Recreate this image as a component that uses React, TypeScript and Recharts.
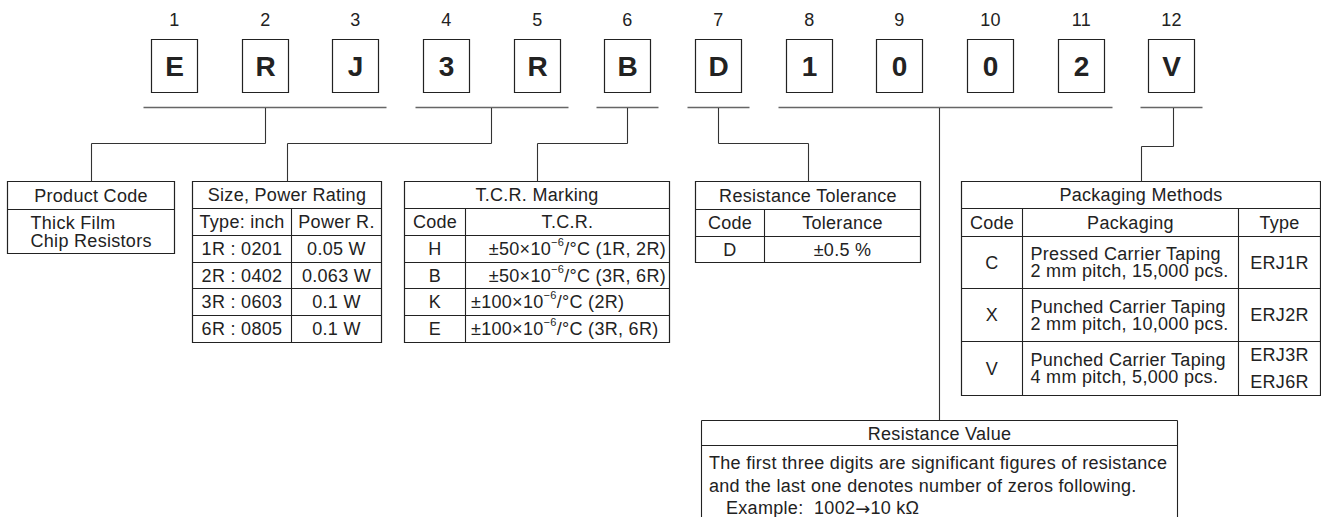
import React from 'react';
import { ComposedChart, XAxis, YAxis, Scatter, ReferenceLine, ReferenceArea } from 'recharts';

// ---------------- data ----------------
const positionLabels = ['1', '2', '3', '4', '5', '6', '7', '8', '9', '10', '11', '12'];
const codeLetters = ['E', 'R', 'J', '3', 'R', 'B', 'D', '1', '0', '0', '2', 'V'];
// which code positions are bracketed together (index ranges)
const groupRanges: [number, number][] = [[0, 2], [3, 4], [5, 5], [6, 6], [7, 10], [11, 11]];

const productTitle = 'Product Code';
const productLines = ['Thick Film', 'Chip Resistors'];

const sizeTitle = 'Size, Power Rating';
const sizeHeader = ['Type: inch', 'Power R.'];
const sizeTypes = ['1R : 0201', '2R : 0402', '3R : 0603', '6R : 0805'];
const sizePowers = ['0.05 W', '0.063 W', '0.1 W', '0.1 W'];

const tcrTitle = 'T.C.R. Marking';
const tcrHeader = ['Code', 'T.C.R.'];
const tcrCodes = ['H', 'B', 'K', 'E'];
const tcrBases = ['±50×10', '±50×10', '±100×10', '±100×10'];
const tcrExps = ['−6', '−6', '−6', '−6'];
const tcrRests = ['/°C (1R, 2R)', '/°C (3R, 6R)', '/°C (2R)', '/°C (3R, 6R)'];

const tolTitle = 'Resistance Tolerance';
const tolHeader = ['Code', 'Tolerance'];
const tolCodes = ['D'];
const tolValues = ['±0.5 %'];

const packTitle = 'Packaging Methods';
const packHeader = ['Code', 'Packaging', 'Type'];
const packCodes = ['C', 'X', 'V'];
const packDesc = [
  ['Pressed Carrier Taping', '2 mm pitch, 15,000 pcs.'],
  ['Punched Carrier Taping', '2 mm pitch, 10,000 pcs.'],
  ['Punched Carrier Taping', '4 mm pitch, 5,000 pcs.'],
];
const packTypes = [['ERJ1R'], ['ERJ2R'], ['ERJ3R', 'ERJ6R']];

const resTitle = 'Resistance Value';
const resLines = [
  'The first three digits are significant figures of resistance',
  'and the last one denotes number of zeros following.',
];
const resExample = ['Example:\u00a0 1002', '→', '10 kΩ'];

// ---------------- layout / style ----------------
const W = 1321;
const H = 517;
const FONT = '"Liberation Sans", Arial, Helvetica, sans-serif';
const FS = 18;
const LS = 0.3;
const TEXT = '#222';
const BOX = '#222';

const FIRST_LEFT = 151;
const PITCH = 90.65;
const BOX_W = 46;

type T = {
  x: number;
  y: number;
  text?: string;
  anchor?: string;
  size?: number;
  weight?: number;
  sup?: [string, string, string];
  arrow?: string[];
};
type Seg = { a: [number, number]; b: [number, number]; color?: string; w?: number };
type Box = { x1: number; y1: number; x2: number; y2: number };

const texts: T[] = [];
const segs: Seg[] = [];
const boxes: Box[] = [];

const boxLeft = (i: number) => Math.round(FIRST_LEFT + PITCH * i) + 0.5;

codeLetters.forEach((c, i) => {
  const l = boxLeft(i);
  boxes.push({ x1: l, x2: l + BOX_W, y1: 39.5, y2: 92.5 });
  texts.push({ x: l + BOX_W / 2, y: 66, text: c, size: 28, weight: 700 });
  texts.push({ x: l + BOX_W / 2, y: 19.5, text: positionLabels[i] });
});

groupRanges.forEach(([a, b]) => {
  segs.push({ a: [boxLeft(a) - 8, 107.5], b: [boxLeft(b) + BOX_W + 8, 107.5], color: '#666', w: 1.6 });
});

const routes: [number, number][][] = [
  [[265.5, 108], [265.5, 143.5], [91.5, 143.5], [91.5, 181.5]],
  [[491.5, 108], [491.5, 143.5], [287.5, 143.5], [287.5, 181.5]],
  [[627.5, 108], [627.5, 143.5], [537.5, 143.5], [537.5, 181.5]],
  [[718.5, 108], [718.5, 143.5], [808.5, 143.5], [808.5, 181.5]],
  [[939.5, 108], [939.5, 420.5]],
  [[1173.5, 108], [1173.5, 146.5], [1141.5, 146.5], [1141.5, 181.5]],
];
routes.forEach((r) => {
  for (let k = 0; k < r.length - 1; k++) segs.push({ a: r[k], b: r[k + 1], color: '#333', w: 1.1 });
});

const hline = (x1: number, x2: number, y: number) => segs.push({ a: [x1, y], b: [x2, y] });
const vline = (x: number, y1: number, y2: number) => segs.push({ a: [x, y1], b: [x, y2] });

// Product code
boxes.push({ x1: 7.5, y1: 181.5, x2: 174.5, y2: 253.5 });
hline(7.5, 174.5, 209.5);
texts.push({ x: 91, y: 195.5, text: productTitle });
productLines.forEach((t, i) => texts.push({ x: 30.5, y: 223 + i * 17.5, text: t, anchor: 'start' }));

// Size / TCR shared rows
const rowLines = [208.5, 235.5, 262.5, 288.5, 315.5];
const rowCenters = [222, 249, 275.5, 302, 329];

boxes.push({ x1: 192.5, y1: 181.5, x2: 381.5, y2: 342.5 });
rowLines.forEach((y) => hline(192.5, 381.5, y));
vline(291.5, 208.5, 342.5);
texts.push({ x: 287, y: 195, text: sizeTitle });
texts.push({ x: 242, y: rowCenters[0], text: sizeHeader[0] });
texts.push({ x: 336.5, y: rowCenters[0], text: sizeHeader[1] });
sizeTypes.forEach((t, i) => {
  texts.push({ x: 242, y: rowCenters[i + 1], text: t });
  texts.push({ x: 336.5, y: rowCenters[i + 1], text: sizePowers[i] });
});

boxes.push({ x1: 404.5, y1: 181.5, x2: 669.5, y2: 342.5 });
rowLines.forEach((y) => hline(404.5, 669.5, y));
vline(465.5, 208.5, 342.5);
texts.push({ x: 537, y: 195, text: tcrTitle });
texts.push({ x: 435, y: rowCenters[0], text: tcrHeader[0] });
texts.push({ x: 567.5, y: rowCenters[0], text: tcrHeader[1] });
const tcrAlign = ['end', 'end', 'start', 'start'];
tcrCodes.forEach((c, i) => {
  texts.push({ x: 435, y: rowCenters[i + 1], text: c });
  texts.push({
    x: tcrAlign[i] === 'end' ? 666 : 471,
    y: rowCenters[i + 1],
    anchor: tcrAlign[i],
    sup: [tcrBases[i], tcrExps[i], tcrRests[i]],
  });
});

// Tolerance
boxes.push({ x1: 695.5, y1: 181.5, x2: 920.5, y2: 262.5 });
hline(695.5, 920.5, 209.5);
hline(695.5, 920.5, 236.5);
vline(764.5, 209.5, 262.5);
texts.push({ x: 808, y: 195.5, text: tolTitle });
texts.push({ x: 730, y: 222.5, text: tolHeader[0] });
texts.push({ x: 842.5, y: 222.5, text: tolHeader[1] });
tolCodes.forEach((c, i) => {
  texts.push({ x: 730, y: 249.5, text: c });
  texts.push({ x: 842.5, y: 249.5, text: tolValues[i] });
});

// Packaging
boxes.push({ x1: 961.5, y1: 181.5, x2: 1320.5, y2: 395.5 });
[208.5, 236.5, 288.5, 341.5].forEach((y) => hline(961.5, 1320.5, y));
vline(1022.5, 208.5, 395.5);
vline(1238.5, 208.5, 395.5);
texts.push({ x: 1141, y: 195, text: packTitle });
texts.push({ x: 992, y: 222.5, text: packHeader[0] });
texts.push({ x: 1130.5, y: 222.5, text: packHeader[1] });
texts.push({ x: 1279.5, y: 222.5, text: packHeader[2] });
const packCenters = [262.5, 315, 368.5];
const packTypeGap = [0, 0, 27];
packCodes.forEach((c, i) => {
  const cy = packCenters[i];
  texts.push({ x: 992, y: cy, text: c });
  packDesc[i].forEach((t, k) => texts.push({ x: 1030.5, y: cy - 8.5 + k * 17, text: t, anchor: 'start' }));
  const n = packTypes[i].length;
  packTypes[i].forEach((t, k) =>
    texts.push({ x: 1279.5, y: cy + (k - (n - 1) / 2) * packTypeGap[i], text: t })
  );
});

// Resistance value
hline(701.5, 1177.5, 420.5);
vline(701.5, 420.5, 517);
vline(1177.5, 420.5, 517);
hline(701.5, 1177.5, 445.5);
texts.push({ x: 939.5, y: 433.5, text: resTitle });
resLines.forEach((t, i) => texts.push({ x: 709, y: 463 + i * 22.5, text: t, anchor: 'start' }));
texts.push({ x: 726, y: 508, arrow: resExample, anchor: 'start' });

const renderLabel = (p: any) => {
  const d: T = p.payload ?? p;
  const size = d.size ?? FS;
  let content: React.ReactNode = d.text;
  if (d.sup) {
    content = (
      <>
        <tspan>{d.sup[0]}</tspan>
        <tspan dy={-7} fontSize={11}>{d.sup[1]}</tspan>
        <tspan dy={7}>{d.sup[2]}</tspan>
      </>
    );
  } else if (d.arrow) {
    content = (
      <>
        <tspan>{d.arrow[0]}</tspan>
        <tspan fontFamily='"DejaVu Sans", sans-serif' letterSpacing={0}>{d.arrow[1]}</tspan>
        <tspan>{d.arrow[2]}</tspan>
      </>
    );
  }
  return (
    <text
      x={p.cx}
      y={p.cy}
      textAnchor={(d.anchor as any) ?? 'middle'}
      dominantBaseline="central"
      fontSize={size}
      fontWeight={d.weight ?? 400}
      fontFamily={FONT}
      letterSpacing={d.weight === 700 ? 0 : LS}
      fill={TEXT}
    >
      {content}
    </text>
  );
};

export default function App() {
  return (
    <div style={{ position: 'absolute', left: 0, top: 0, width: W, height: H, background: '#fff' }}>
      <ComposedChart width={W} height={H} margin={{ top: 0, right: 0, bottom: 0, left: 0 }} data={texts}>
        <XAxis type="number" dataKey="x" domain={[0, W]} hide allowDataOverflow />
        <YAxis type="number" dataKey="y" domain={[0, H]} reversed hide allowDataOverflow />
        {boxes.map((b, i) => (
          <ReferenceArea
            key={`b${i}`}
            x1={b.x1}
            x2={b.x2}
            y1={b.y1}
            y2={b.y2}
            fill="none"
            fillOpacity={0}
            stroke={BOX}
            strokeWidth={1.2}
            ifOverflow="visible"
          />
        ))}
        {segs.map((s, i) => (
          <ReferenceLine
            key={`s${i}`}
            segment={[{ x: s.a[0], y: s.a[1] }, { x: s.b[0], y: s.b[1] }]}
            stroke={s.color ?? BOX}
            strokeWidth={s.w ?? 1.1}
            ifOverflow="visible"
          />
        ))}
        <Scatter data={texts} dataKey="y" shape={renderLabel} isAnimationActive={false} legendType="none" />
      </ComposedChart>
    </div>
  );
}
